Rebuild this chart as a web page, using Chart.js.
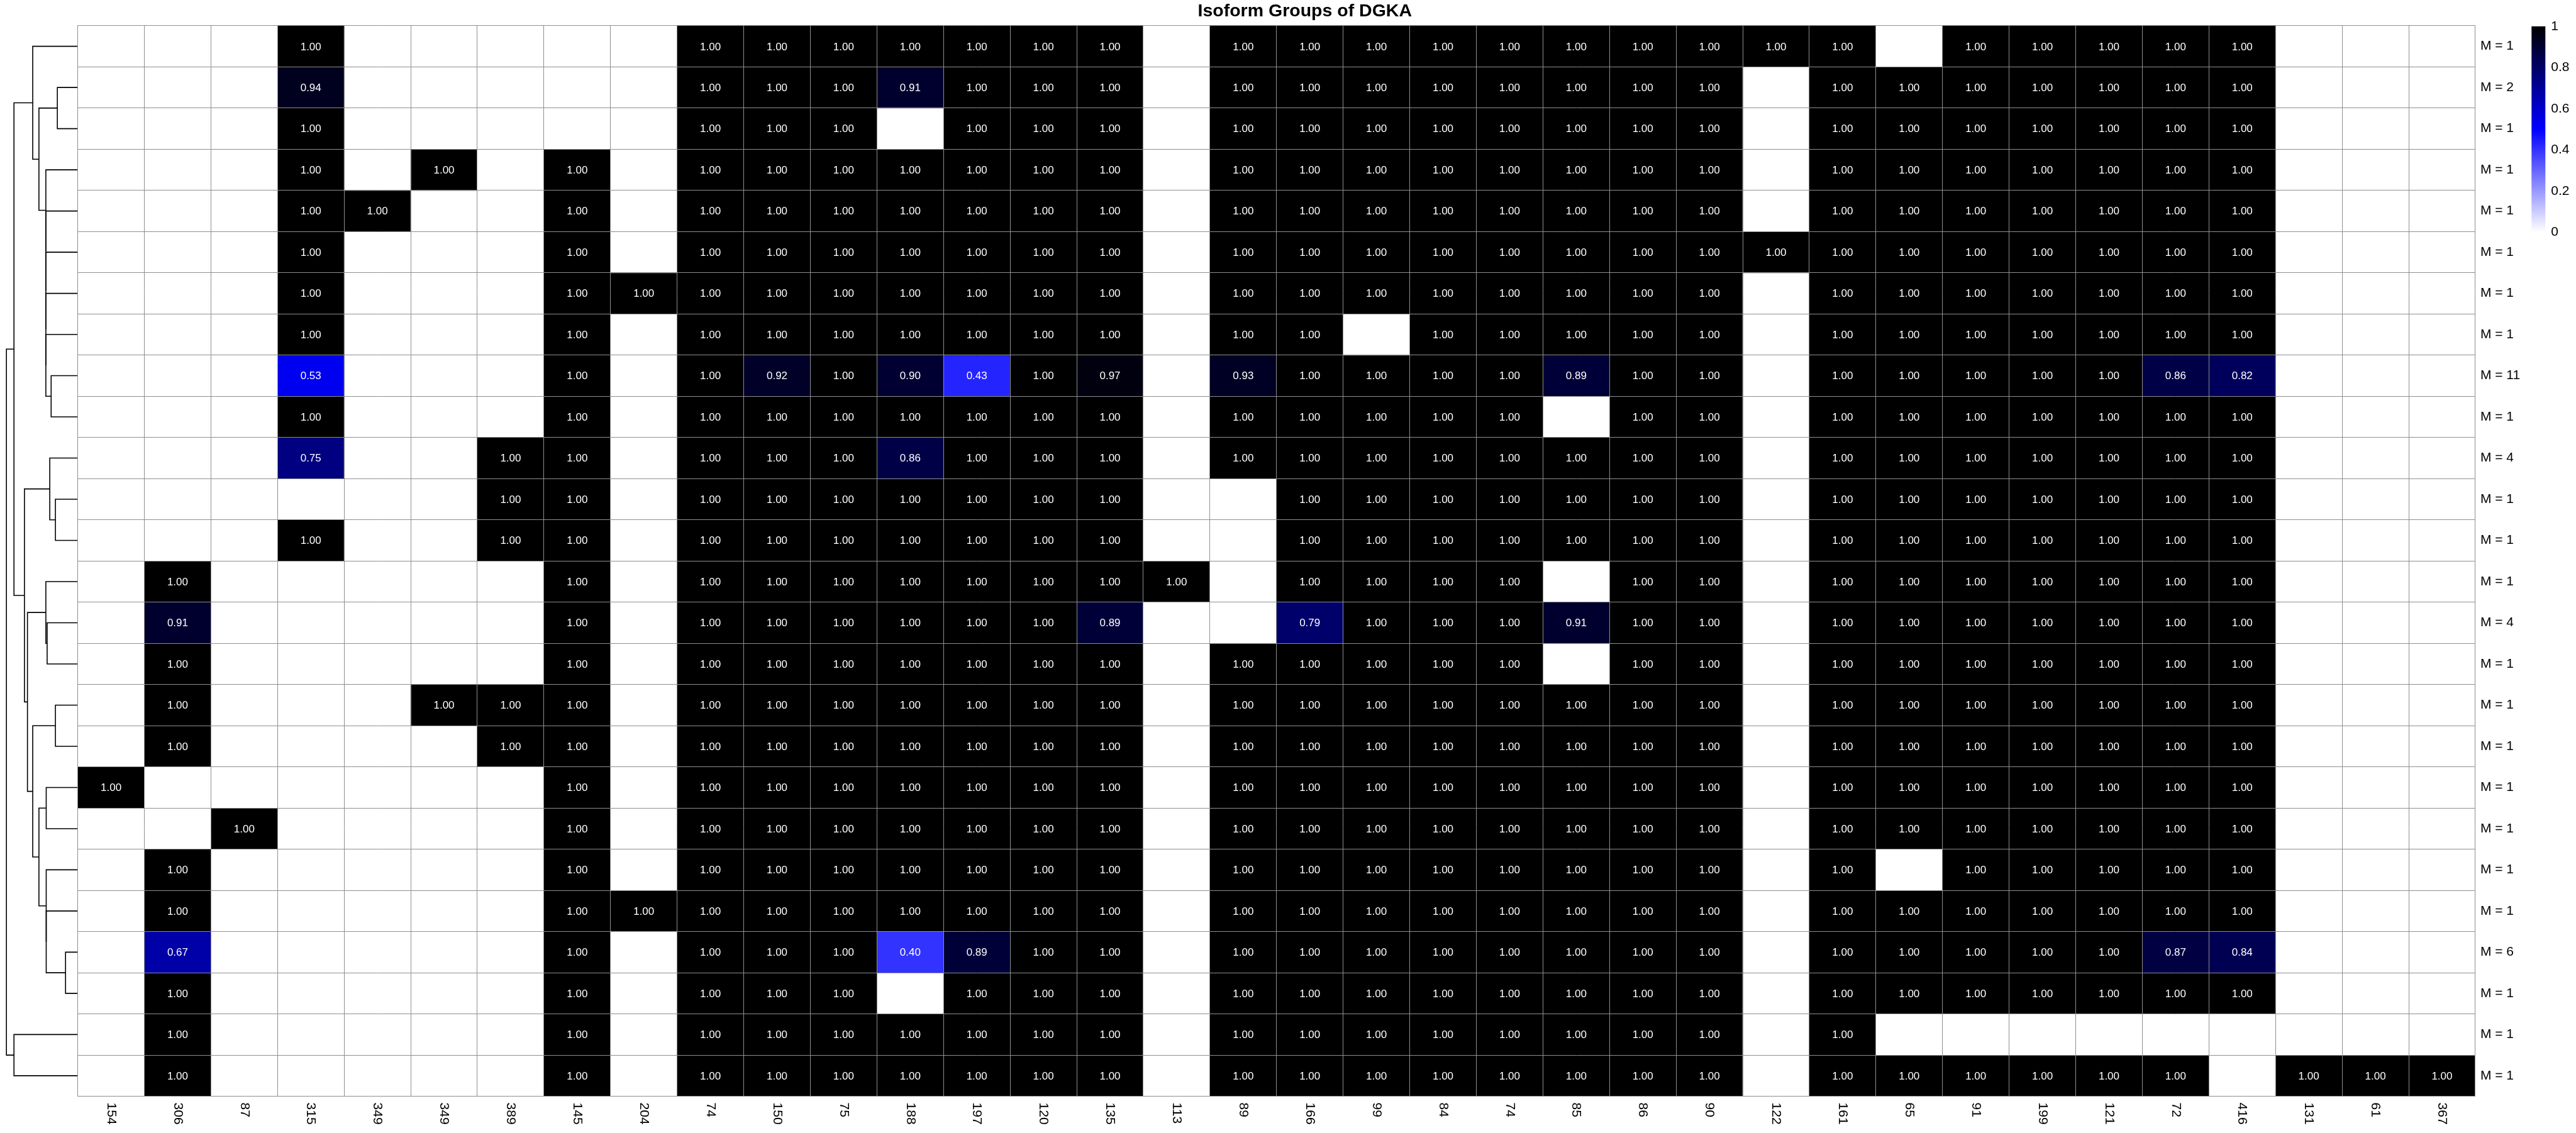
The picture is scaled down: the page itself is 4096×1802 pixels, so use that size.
<!DOCTYPE html>
<html><head><meta charset="utf-8">
<script src="https://cdn.jsdelivr.net/npm/chart.js@4.4.1/dist/chart.umd.min.js"></script>
<style>
html,body{margin:0;padding:0;background:#ffffff;}
#wrap{position:relative;width:4096px;height:1802px;overflow:hidden;}
canvas{position:absolute;top:0;left:0;}
</style></head><body>
<div id="wrap">
<canvas id="dend" width="124" height="1802"></canvas>
<canvas id="heat" width="4096" height="1802"></canvas>
</div>
<script>
const _ = null;
const chartTitle = 'Isoform Groups of DGKA';
const colLabels = ['154','306','87','315','349','349','389','145','204','74','150','75','188','197','120','135','113','89','166','99','84','74','85','86','90','122','161','65','91','199','121','72','416','131','61','367'];
const rowLabels = ['M = 1','M = 2','M = 1','M = 1','M = 1','M = 1','M = 1','M = 1','M = 11','M = 1','M = 4','M = 1','M = 1','M = 1','M = 4','M = 1','M = 1','M = 1','M = 1','M = 1','M = 1','M = 1','M = 6','M = 1','M = 1','M = 1'];
const cellValues = [
 [_,_,_,1,_,_,_,_,_, 1,1,1,1,1,1,1,_, 1,1,1,1,1,1,1,1,1, 1,_,1,1,1,1,1,_,_,_],
 [_,_,_,.94,_,_,_,_,_, 1,1,1,.91,1,1,1,_, 1,1,1,1,1,1,1,1,_, 1,1,1,1,1,1,1,_,_,_],
 [_,_,_,1,_,_,_,_,_, 1,1,1,_,1,1,1,_, 1,1,1,1,1,1,1,1,_, 1,1,1,1,1,1,1,_,_,_],
 [_,_,_,1,_,1,_,1,_, 1,1,1,1,1,1,1,_, 1,1,1,1,1,1,1,1,_, 1,1,1,1,1,1,1,_,_,_],
 [_,_,_,1,1,_,_,1,_, 1,1,1,1,1,1,1,_, 1,1,1,1,1,1,1,1,_, 1,1,1,1,1,1,1,_,_,_],
 [_,_,_,1,_,_,_,1,_, 1,1,1,1,1,1,1,_, 1,1,1,1,1,1,1,1,1, 1,1,1,1,1,1,1,_,_,_],
 [_,_,_,1,_,_,_,1,1, 1,1,1,1,1,1,1,_, 1,1,1,1,1,1,1,1,_, 1,1,1,1,1,1,1,_,_,_],
 [_,_,_,1,_,_,_,1,_, 1,1,1,1,1,1,1,_, 1,1,_,1,1,1,1,1,_, 1,1,1,1,1,1,1,_,_,_],
 [_,_,_,.53,_,_,_,1,_, 1,.92,1,.90,.43,1,.97,_, .93,1,1,1,1,.89,1,1,_, 1,1,1,1,1,.86,.82,_,_,_],
 [_,_,_,1,_,_,_,1,_, 1,1,1,1,1,1,1,_, 1,1,1,1,1,_,1,1,_, 1,1,1,1,1,1,1,_,_,_],
 [_,_,_,.75,_,_,1,1,_, 1,1,1,.86,1,1,1,_, 1,1,1,1,1,1,1,1,_, 1,1,1,1,1,1,1,_,_,_],
 [_,_,_,_,_,_,1,1,_, 1,1,1,1,1,1,1,_, _,1,1,1,1,1,1,1,_, 1,1,1,1,1,1,1,_,_,_],
 [_,_,_,1,_,_,1,1,_, 1,1,1,1,1,1,1,_, _,1,1,1,1,1,1,1,_, 1,1,1,1,1,1,1,_,_,_],
 [_,1,_,_,_,_,_,1,_, 1,1,1,1,1,1,1,1, _,1,1,1,1,_,1,1,_, 1,1,1,1,1,1,1,_,_,_],
 [_,.91,_,_,_,_,_,1,_, 1,1,1,1,1,1,.89,_, _,.79,1,1,1,.91,1,1,_, 1,1,1,1,1,1,1,_,_,_],
 [_,1,_,_,_,_,_,1,_, 1,1,1,1,1,1,1,_, 1,1,1,1,1,_,1,1,_, 1,1,1,1,1,1,1,_,_,_],
 [_,1,_,_,_,1,1,1,_, 1,1,1,1,1,1,1,_, 1,1,1,1,1,1,1,1,_, 1,1,1,1,1,1,1,_,_,_],
 [_,1,_,_,_,_,1,1,_, 1,1,1,1,1,1,1,_, 1,1,1,1,1,1,1,1,_, 1,1,1,1,1,1,1,_,_,_],
 [1,_,_,_,_,_,_,1,_, 1,1,1,1,1,1,1,_, 1,1,1,1,1,1,1,1,_, 1,1,1,1,1,1,1,_,_,_],
 [_,_,1,_,_,_,_,1,_, 1,1,1,1,1,1,1,_, 1,1,1,1,1,1,1,1,_, 1,1,1,1,1,1,1,_,_,_],
 [_,1,_,_,_,_,_,1,_, 1,1,1,1,1,1,1,_, 1,1,1,1,1,1,1,1,_, 1,_,1,1,1,1,1,_,_,_],
 [_,1,_,_,_,_,_,1,1, 1,1,1,1,1,1,1,_, 1,1,1,1,1,1,1,1,_, 1,1,1,1,1,1,1,_,_,_],
 [_,.67,_,_,_,_,_,1,_, 1,1,1,.40,.89,1,1,_, 1,1,1,1,1,1,1,1,_, 1,1,1,1,1,.87,.84,_,_,_],
 [_,1,_,_,_,_,_,1,_, 1,1,1,_,1,1,1,_, 1,1,1,1,1,1,1,1,_, 1,1,1,1,1,1,1,_,_,_],
 [_,1,_,_,_,_,_,1,_, 1,1,1,1,1,1,1,_, 1,1,1,1,1,1,1,1,_, 1,_,_,_,_,_,_,_,_,_],
 [_,1,_,_,_,_,_,1,_, 1,1,1,1,1,1,1,_, 1,1,1,1,1,1,1,1,_, 1,1,1,1,1,1,_,1,1,1]
];
const legendTicks = [0, 0.2, 0.4, 0.6, 0.8, 1];
const colorStops = [0, 0.5, 1];
const stopColors = [[255,255,255],[0,0,255],[0,0,0]];
// row dendrogram merges (hclust style): negative = leaf row (1-based), positive = earlier merge; last = height
const dendroMerge = [
 [-2,-3,0.286],[-9,-10,0.373],[-8,2,0.447],[-7,3,0.447],[-6,4,0.447],[-5,5,0.447],[-4,6,0.447],
 [1,7,0.544],[-1,8,0.631],[-12,-13,0.313],[-11,10,0.392],[-15,-16,0.429],[-14,12,0.447],
 [-17,-18,0.313],[-19,-20,0.442],[-23,-24,0.171],[-22,16,0.442],[-21,17,0.442],[15,18,0.544],
 [14,19,0.631],[13,20,0.705],[11,21,0.747],[9,22,0.894],[-25,-26,0.894],[23,24,1.0]
];

// ---- colour mapping (linear RGB interpolation between stops) ----
function valueColor(v){
  if (v === null || v === undefined) return '#ffffff';
  v = Math.max(colorStops[0], Math.min(colorStops[colorStops.length-1], v));
  let k = 0; while (k < colorStops.length-2 && v > colorStops[k+1]) k++;
  const t = (v - colorStops[k])/(colorStops[k+1]-colorStops[k]);
  const a = stopColors[k], b = stopColors[k+1];
  const c = [0,1,2].map(i => Math.round(a[i] + (b[i]-a[i])*t));
  return 'rgb('+c[0]+','+c[1]+','+c[2]+')';
}

const FONT = "'Liberation Sans', Arial, Helvetica, sans-serif";
Chart.defaults.font.family = FONT;
Chart.defaults.color = '#000000';
const GRID = '#8f8f8f';

// layout (window px)
const PAD = {left: 123.6, right: 4096 - 3935.9, top: 40.9, bottom: 1802 - 1743.6};
const ROWLAB_W = 90;

// ---- heatmap ----
const cellTextPlugin = {
  id: 'cellText',
  afterDraw(chart) {
    const ctx = chart.ctx;
    ctx.save();
    ctx.font = '17px ' + FONT;
    ctx.fillStyle = '#ffffff';
    ctx.textAlign = 'center';
    ctx.textBaseline = 'middle';
    chart.data.datasets.forEach((ds, i) => {
      const meta = chart.getDatasetMeta(i);
      meta.data.forEach((el, j) => {
        const v = cellValues[i][j];
        if (v === null) return;
        ctx.fillText(v.toFixed(2), el.x, (el.y + el.base) / 2 + 1);
      });
    });
    ctx.restore();
  }
};
const colLabelPlugin = {
  id: 'colLabels',
  afterDraw(chart) {
    const ctx = chart.ctx, xs = chart.scales.x, area = chart.chartArea;
    ctx.save();
    ctx.font = '21px ' + FONT;
    ctx.fillStyle = '#000000';
    ctx.textAlign = 'left';
    ctx.textBaseline = 'middle';
    colLabels.forEach((lab, j) => {
      ctx.save();
      ctx.translate(xs.getPixelForValue(j), area.bottom + 10);
      ctx.rotate(Math.PI / 2);
      ctx.fillText(lab, 0, 0);
      ctx.restore();
    });
    ctx.restore();
  }
};
const colorBarPlugin = {
  id: 'colorBar',
  afterDraw(chart) {
    const ctx = chart.ctx;
    const x0 = 4025.3, w = 22, top = 41.9, bottom = 369.4;
    const g = ctx.createLinearGradient(0, bottom, 0, top);
    const lo = legendTicks[0], hi = legendTicks[legendTicks.length-1];
    colorStops.forEach((s, k) => {
      const c = stopColors[k];
      g.addColorStop((s - lo) / (hi - lo), 'rgb('+c[0]+','+c[1]+','+c[2]+')');
    });
    ctx.save();
    ctx.fillStyle = g;
    ctx.fillRect(x0, top, w, bottom - top);
    ctx.font = '21px ' + FONT;
    ctx.fillStyle = '#000000';
    ctx.textAlign = 'left';
    ctx.textBaseline = 'middle';
    legendTicks.forEach(v => {
      const y = bottom - (v - lo) / (hi - lo) * (bottom - top);
      ctx.fillText(String(v), x0 + w + 9, y);
    });
    ctx.restore();
  }
};

const heatDatasets = rowLabels.map((lab, i) => ({
  label: lab,
  data: colLabels.map(() => [i, i + 1]),
  backgroundColor: (c) => valueColor(cellValues[i][c.dataIndex]),
  borderWidth: 0,
  grouped: false,
  barPercentage: 1,
  categoryPercentage: 1,
  xAxisID: 'x',
  yAxisID: 'y'
}));

new Chart(document.getElementById('heat'), {
  type: 'bar',
  data: { labels: colLabels, datasets: heatDatasets },
  options: {
    responsive: false, animation: false, devicePixelRatio: 1,
    layout: { padding: { left: PAD.left, right: PAD.right - ROWLAB_W, top: 0, bottom: PAD.bottom } },
    plugins: {
      legend: { display: false },
      tooltip: { enabled: false },
      title: {
        display: true, text: chartTitle, color: '#000000',
        font: { size: 28.5, weight: 'bold', family: FONT, lineHeight: 1.2 },
        padding: { top: 1, bottom: PAD.top - 34.2 - 1 }
      }
    },
    scales: {
      x: {
        type: 'category', offset: true,
        grid: { display: true, offset: true, color: GRID, lineWidth: 1, drawTicks: false, z: 1 },
        border: { display: true, color: GRID, width: 1, z: 1 },
        ticks: { display: false, autoSkip: false },
        afterFit: (s) => { s.height = 0; }
      },
      y: {
        type: 'linear', min: 0, max: rowLabels.length, reverse: true,
        grid: { display: true, color: GRID, lineWidth: 1, drawTicks: false, z: 1 },
        border: { display: true, color: GRID, width: 1, z: 1 },
        ticks: { display: false, stepSize: 1, maxTicksLimit: 100 },
        afterFit: (s) => { s.width = 0; }
      },
      yLab: {
        type: 'category', position: 'right', labels: rowLabels, offset: true,
        grid: { display: false, drawTicks: false },
        border: { display: false },
        ticks: { display: true, autoSkip: false, padding: 8, color: '#000000', font: { size: 21, family: FONT } },
        afterFit: (s) => { s.width = ROWLAB_W; }
      }
    }
  },
  plugins: [cellTextPlugin, colLabelPlugin, colorBarPlugin]
});

// ---- row dendrogram ----
const nodePos = [];
function leafOrNode(id) {
  if (id < 0) return { h: 0, y: (-id - 1) + 0.5 };
  return nodePos[id - 1];
}
const dendDatasets = dendroMerge.map((m, k) => {
  const a = leafOrNode(m[0]), b = leafOrNode(m[1]);
  nodePos[k] = { h: m[2], y: (a.y + b.y) / 2 };
  return {
    data: [{x: a.h, y: a.y}, {x: m[2], y: a.y}, {x: m[2], y: b.y}, {x: b.h, y: b.y}],
    showLine: true, borderColor: '#000000', borderWidth: 1.6, pointRadius: 0,
    tension: 0, clip: false, fill: false
  };
});
new Chart(document.getElementById('dend'), {
  type: 'scatter',
  data: { datasets: dendDatasets },
  options: {
    responsive: false, animation: false, devicePixelRatio: 1,
    layout: { padding: { left: 10.2, right: 124 - 123.6, top: PAD.top, bottom: PAD.bottom } },
    plugins: { legend: { display: false }, tooltip: { enabled: false } },
    scales: {
      x: { type: 'linear', min: 0, max: 1, reverse: true, display: false },
      y: { type: 'linear', min: 0, max: rowLabels.length, reverse: true, display: false }
    }
  }
});
</script>
</body></html>
